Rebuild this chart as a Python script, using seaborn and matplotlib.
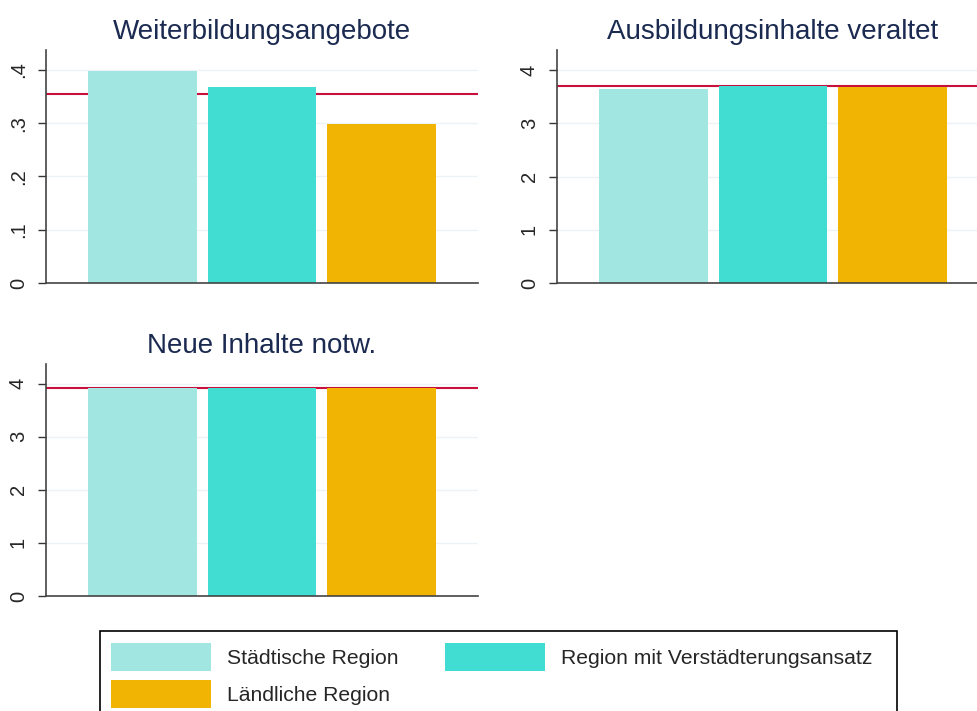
import matplotlib
matplotlib.use("Agg")
import matplotlib.pyplot as plt
import matplotlib.patches as mpatches
import seaborn as sns
import pandas as pd

sns.set_style("white")
plt.rcParams["font.family"] = ["Liberation Sans", "DejaVu Sans"]

# Daten
regionen = ["Städtische Region", "Region mit Verstädterungsansatz", "Ländliche Region"]
farben = ["#a1e6e0", "#41ddd3", "#f1b403"]

titel = ["Weiterbildungsangebote", "Ausbildungsinhalte veraltet", "Neue Inhalte notw."]
werte_weiterbildung = [0.398, 0.368, 0.299]
werte_veraltet = [3.645, 3.70, 3.69]
werte_neu = [3.92, 3.91, 3.91]
mittelwerte = [0.354, 3.71, 3.925]

ticks_klein = [0, 0.1, 0.2, 0.3, 0.4]
ticklabels_klein = ["0", ".1", ".2", ".3", ".4"]
ticks_gross = [0, 1, 2, 3, 4]
ticklabels_gross = ["0", "1", "2", "3", "4"]

W, H = 977, 711
fig = plt.figure(figsize=(W / 100, H / 100), dpi=100)


def achse(links, oben, unten, breite=432):
    return fig.add_axes([links / W, (H - unten) / H, breite / W, (unten - oben) / H])


panels = [
    (achse(46, 50, 283), werte_weiterbildung, ticks_klein, ticklabels_klein, 0.4375),
    (achse(557, 50, 283), werte_veraltet, ticks_gross, ticklabels_gross, 4.38),
    (achse(46, 364, 596), werte_neu, ticks_gross, ticklabels_gross, 4.37),
]

pal = dict(zip(regionen, farben))

for i, (ax, werte, ticks, labels, ymax) in enumerate(panels):
    df = pd.DataFrame({"region": regionen, "wert": werte})
    sns.barplot(data=df, x="region", y="wert", hue="region", palette=pal,
                saturation=1, width=0.908, linewidth=0, legend=False, ax=ax, zorder=2)
    ax.axhline(mittelwerte[i], color="#c8103c", lw=1.5, zorder=1)
    ax.set_xlim(-0.804, 2.804)
    ax.set_ylim(0, ymax)
    ax.set_yticks(ticks)
    ax.set_yticklabels(labels, rotation=90, va="center", fontsize=14.5)
    ax.set_xticks([])
    ax.set_xlabel("")
    ax.set_ylabel("")
    ax.yaxis.grid(True, color="#edf2f5", lw=1)
    ax.set_axisbelow(True)
    ax.tick_params(axis="y", left=True, length=6, width=1, color="#333333", pad=7)
    for s in ["top", "right"]:
        ax.spines[s].set_visible(False)
    for s in ["left", "bottom"]:
        ax.spines[s].set_color("#444444")
        ax.spines[s].set_linewidth(1.2)
    ax.set_title(titel[i], fontsize=20, color="#1b2a50", pad=8)

# Legende
handles = [mpatches.Patch(color=c, label=r, linewidth=0) for r, c in zip(regionen, farben)]
fig.add_artist(mpatches.Rectangle((100 / W, (H - 725) / H), 797 / W, 94 / H,
                                  transform=fig.transFigure, fill=False,
                                  edgecolor="black", lw=1.2))
leg = fig.legend(handles=[handles[0], handles[2], handles[1]],
                 labels=[regionen[0], regionen[2], regionen[1]],
                 loc="upper left", bbox_to_anchor=(111 / W, (H - 643) / H),
                 ncol=2, frameon=False, fontsize=15.2, borderpad=0,
                 handlelength=4.75, handleheight=1.65, handletextpad=0.75,
                 columnspacing=2.2, labelspacing=0.45, borderaxespad=0)

fig.savefig("out.png", dpi=100)
